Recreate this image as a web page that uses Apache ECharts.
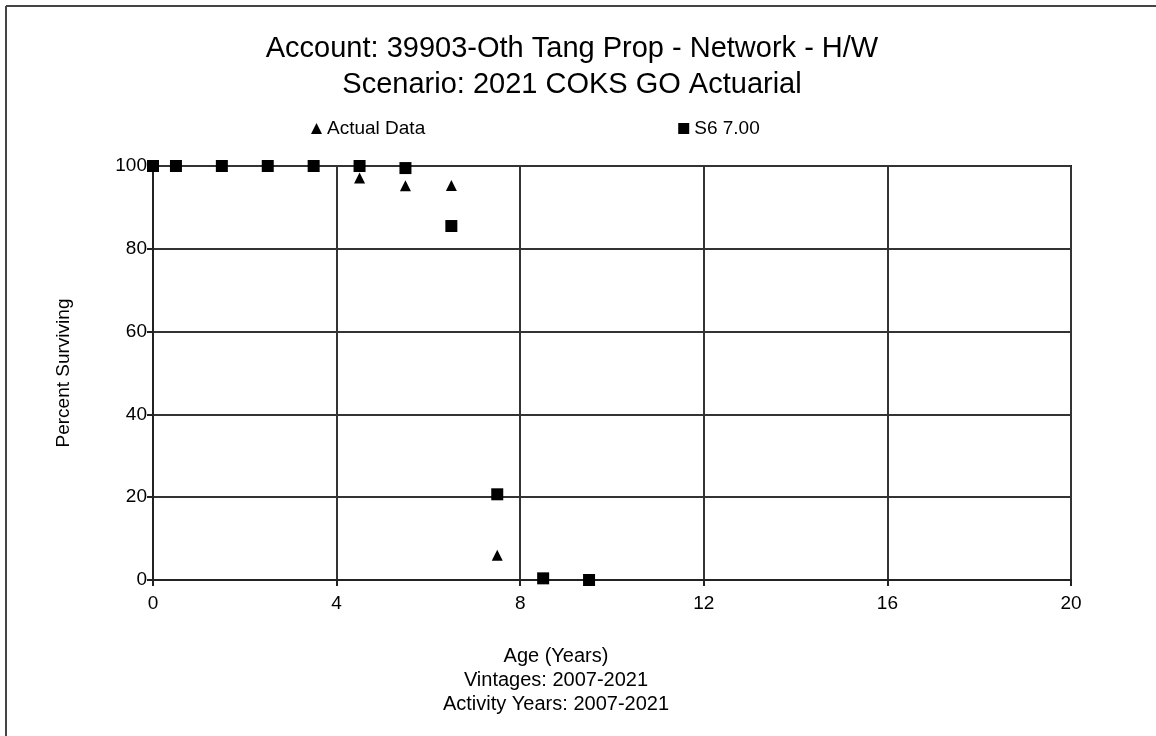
<!DOCTYPE html>
<html>
<head>
<meta charset="utf-8">
<script src="https://cdn.jsdelivr.net/npm/echarts@6/dist/echarts.min.js"></script>
<style>
html,body{margin:0;padding:0;background:#fff;}
#chart{width:1156px;height:736px;}
</style>
</head>
<body>
<div id="chart"></div>
<script>
// Data
var titleLines = ['Account: 39903-Oth Tang Prop - Network - H/W', 'Scenario: 2021 COKS GO Actuarial'];
var footerLines = ['Age (Years)', 'Vintages: 2007-2021', 'Activity Years: 2007-2021'];
var seriesNames = ['Actual Data', 'S6 7.00'];
var actualAges = [0, 0.5, 1.5, 2.5, 3.5, 4.5, 5.5, 6.5, 7.5];
var actualValues = [100, 100, 100, 100, 100, 97.1, 95.2, 95.3, 6.0];
var fittedAges = [0, 0.5, 1.5, 2.5, 3.5, 4.5, 5.5, 6.5, 7.5, 8.5, 9.5];
var fittedValues = [100, 100, 100, 100, 100, 100, 99.5, 85.5, 20.7, 0.4, 0.0];
var xTicks = [0, 4, 8, 12, 16, 20];
var yTicks = [0, 20, 40, 60, 80, 100];

function pairs(xs, ys) { return xs.map(function (x, i) { return [x, ys[i]]; }); }

var FONT = '"Liberation Sans", Arial, sans-serif';
var chart = echarts.init(document.getElementById('chart'), null, {renderer: 'canvas'});
chart.setOption({
  backgroundColor: '#fff',
  animation: false,
  title: {
    text: titleLines.join('\n'),
    left: 567, top: 26, textAlign: 'center',
    textStyle: {fontFamily: FONT, fontSize: 29, fontWeight: 'normal', color: '#000', lineHeight: 36}
  },
  legend: {
    left: 306, top: 114,
    itemWidth: 11, itemHeight: 11, itemGap: 253,
    textStyle: {fontFamily: FONT, fontSize: 19, color: '#000'},
    data: [
      {name: seriesNames[0], icon: 'triangle'},
      {name: seriesNames[1], icon: 'rect'}
    ]
  },
  grid: {left: 153, right: 85, top: 166, bottom: 156, show: true, borderColor: '#111', borderWidth: 2},
  xAxis: {
    type: 'value', min: xTicks[0], max: xTicks[xTicks.length - 1], interval: 4,
    axisLine: {lineStyle: {color: '#222', width: 2}},
    axisTick: {show: true, length: 6, lineStyle: {color: '#222', width: 2}},
    axisLabel: {fontFamily: FONT, fontSize: 19, color: '#000', margin: 14},
    splitLine: {show: true, lineStyle: {color: '#333', width: 2}}
  },
  yAxis: {
    type: 'value', min: yTicks[0], max: yTicks[yTicks.length - 1], interval: 20,
    name: 'Percent Surviving', nameLocation: 'middle', nameGap: 80, nameRotate: 90,
    nameTextStyle: {fontFamily: FONT, fontSize: 19, color: '#000'},
    axisLine: {lineStyle: {color: '#222', width: 2}},
    axisTick: {show: true, length: 6, lineStyle: {color: '#222', width: 2}},
    axisLabel: {fontFamily: FONT, fontSize: 19, color: '#000', margin: 6},
    splitLine: {show: true, lineStyle: {color: '#333', width: 2}}
  },
  graphic: [
    {type: 'line', shape: {x1: 6, y1: 6, x2: 1156, y2: 6}, style: {stroke: '#444', lineWidth: 2}, silent: true},
    {type: 'line', shape: {x1: 6, y1: 6, x2: 6, y2: 736}, style: {stroke: '#444', lineWidth: 2}, silent: true},
    {type: 'text', x: 556, y: 644, style: {
      text: footerLines.join('\n'), textAlign: 'center', align: 'center',
      fontFamily: FONT, fontSize: 20, lineHeight: 24, fill: '#000'
    }, silent: true}
  ],
  series: [
    {name: seriesNames[0], type: 'scatter', symbol: 'triangle', symbolSize: 11,
     itemStyle: {color: '#000', opacity: 1}, data: pairs(actualAges, actualValues), z: 3},
    {name: seriesNames[1], type: 'scatter', symbol: 'rect', symbolSize: 12,
     itemStyle: {color: '#000', opacity: 1}, data: pairs(fittedAges, fittedValues), z: 4}
  ]
});
</script>
</body>
</html>
